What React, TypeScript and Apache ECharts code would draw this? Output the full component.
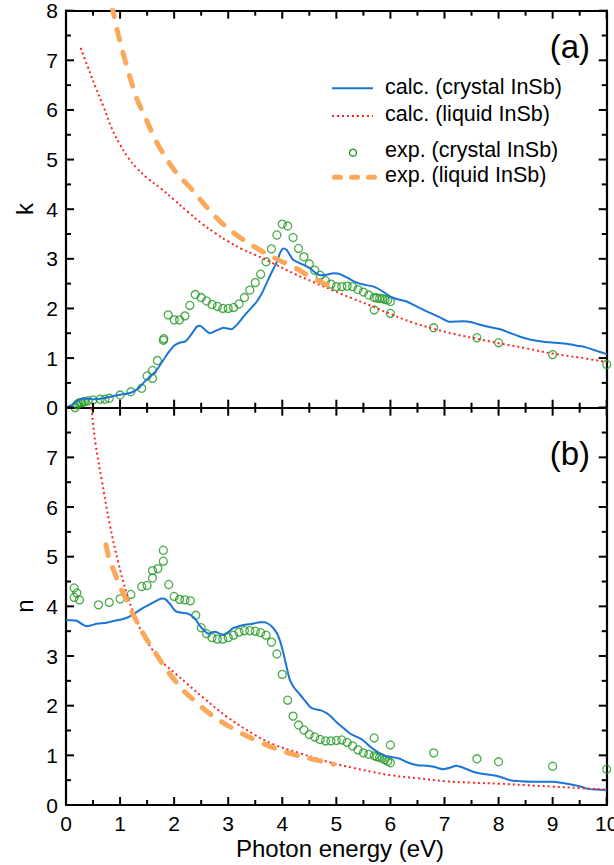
import React, { useEffect, useRef } from "react";
import * as echarts from "echarts";

const BLUE = "#1a75d6";
const RED = "#ff2424";
const GREEN = "#1e961e";
const ORANGE = "#fba85b";
const FONT = "Liberation Sans, Arial, sans-serif";

const xTicks = [0, 1, 2, 3, 4, 5, 6, 7, 8, 9, 10];
const xMinorTicks = [0.5, 1.5, 2.5, 3.5, 4.5, 5.5, 6.5, 7.5, 8.5, 9.5];
const yTicks = [0, 1, 2, 3, 4, 5, 6, 7, 8];
const yMinorTicks = [0.5, 1.5, 2.5, 3.5, 4.5, 5.5, 6.5, 7.5];
const Y_MAX = 8;

// Panel (a): extinction coefficient k
const kCalcCrystal = [
  [0, 0], [0.1, 0.05], [0.2, 0.13], [0.3, 0.18], [0.4, 0.18], [0.5, 0.17], [0.7, 0.19], [0.9, 0.24],
  [1.0, 0.26], [1.2, 0.3], [1.35, 0.4], [1.45, 0.52], [1.55, 0.62], [1.65, 0.72], [1.8, 0.96],
  [1.9, 1.12], [2.0, 1.25], [2.1, 1.31], [2.2, 1.33], [2.3, 1.45], [2.42, 1.63], [2.48, 1.65],
  [2.56, 1.58], [2.66, 1.5], [2.79, 1.56], [2.91, 1.61], [3.06, 1.58], [3.15, 1.66], [3.28, 1.83],
  [3.4, 1.98], [3.53, 2.14], [3.62, 2.3], [3.71, 2.51], [3.8, 2.72], [3.9, 2.94], [3.96, 3.12],
  [4.02, 3.21], [4.08, 3.18], [4.14, 3.08], [4.2, 2.98], [4.33, 2.91], [4.51, 2.81], [4.7, 2.67],
  [4.82, 2.68], [4.95, 2.71], [5.05, 2.7], [5.2, 2.62], [5.38, 2.52], [5.55, 2.47], [5.69, 2.44],
  [5.85, 2.35], [6.0, 2.24], [6.15, 2.18], [6.3, 2.14], [6.5, 2.03], [6.67, 1.94], [6.9, 1.83],
  [7.1, 1.73], [7.35, 1.74], [7.5, 1.72], [7.66, 1.67], [7.85, 1.62], [8.03, 1.58], [8.2, 1.51],
  [8.4, 1.43], [8.6, 1.37], [8.83, 1.33], [9.05, 1.31], [9.26, 1.29], [9.45, 1.25], [9.6, 1.22],
  [9.8, 1.15], [10, 1.08],
];

const kCalcLiquid = [
  [0.27, 7.25], [0.4, 6.88], [0.55, 6.45], [0.7, 6.05], [0.85, 5.62], [1.0, 5.3], [1.15, 5.04],
  [1.3, 4.84], [1.5, 4.63], [1.75, 4.42], [2.0, 4.19], [2.25, 3.95], [2.5, 3.72], [2.77, 3.51],
  [3.0, 3.35], [3.25, 3.2], [3.5, 3.08], [3.85, 2.9], [4.22, 2.7], [4.58, 2.53], [4.94, 2.36],
  [5.3, 2.2], [5.65, 2.05], [6.0, 1.89], [6.4, 1.72], [6.8, 1.59], [7.2, 1.48], [7.6, 1.39],
  [8.0, 1.3], [8.5, 1.2], [9.0, 1.09], [9.5, 1.01], [10, 0.92],
];

const kExpCrystal = [
  [0.17, 0.0], [0.2, 0.06], [0.23, 0.09], [0.26, 0.1], [0.29, 0.1], [0.32, 0.12], [0.35, 0.12],
  [0.41, 0.14], [0.5, 0.155], [0.63, 0.17], [0.72, 0.17], [0.8, 0.19], [1.0, 0.255], [1.2, 0.32],
  [1.4, 0.39], [1.5, 0.64], [1.6, 0.59], [1.6, 0.75], [1.69, 0.95], [1.8, 1.36], [1.81, 1.39],
  [1.89, 1.87], [2.0, 1.77], [2.1, 1.77], [2.2, 1.85], [2.29, 2.06], [2.39, 2.28], [2.5, 2.22],
  [2.6, 2.15], [2.7, 2.08], [2.8, 2.04], [2.9, 2.0], [3.0, 2.0], [3.1, 2.02], [3.2, 2.09],
  [3.3, 2.22], [3.4, 2.37], [3.5, 2.52], [3.6, 2.69], [3.7, 2.94], [3.8, 3.2], [3.9, 3.48],
  [4.0, 3.7], [4.1, 3.66], [4.2, 3.43], [4.3, 3.21], [4.4, 3.04], [4.5, 2.9], [4.6, 2.77],
  [4.7, 2.67], [4.8, 2.56], [4.9, 2.49], [5.0, 2.44], [5.1, 2.44], [5.2, 2.45], [5.3, 2.44],
  [5.4, 2.38], [5.5, 2.33], [5.6, 2.27], [5.7, 2.22], [5.75, 2.21], [5.8, 2.2], [5.85, 2.2],
  [5.9, 2.18], [5.95, 2.17], [6.0, 2.14], [5.7, 1.97], [6.0, 1.9], [6.8, 1.61], [7.6, 1.41],
  [8.0, 1.31], [9.0, 1.07], [10.0, 0.87],
];

const kExpLiquid = [
  [0.85, 8.1], [0.96, 7.55], [1.08, 7.05], [1.2, 6.6], [1.32, 6.2], [1.46, 5.87], [1.6, 5.52],
  [1.76, 5.19], [2.05, 4.72], [2.26, 4.48], [2.48, 4.2], [2.77, 3.84], [3.13, 3.5], [3.49, 3.24],
  [3.85, 3.02], [4.22, 2.83], [4.52, 2.64], [4.89, 2.44],
];

// Panel (b): refractive index n
const nCalcCrystal = [
  [0, 3.72], [0.1, 3.72], [0.2, 3.71], [0.3, 3.64], [0.38, 3.6], [0.47, 3.62], [0.57, 3.65],
  [0.75, 3.67], [0.9, 3.71], [1.0, 3.73], [1.1, 3.76], [1.18, 3.8], [1.27, 3.86], [1.37, 3.93],
  [1.46, 3.99], [1.55, 4.04], [1.65, 4.1], [1.77, 4.16], [1.83, 4.15], [1.92, 4.05], [2.0, 3.93],
  [2.05, 3.89], [2.15, 3.87], [2.23, 3.86], [2.3, 3.83], [2.36, 3.78], [2.42, 3.7], [2.48, 3.6],
  [2.55, 3.52], [2.63, 3.45], [2.7, 3.48], [2.76, 3.49], [2.84, 3.45], [2.91, 3.43], [3.0, 3.48],
  [3.09, 3.56], [3.2, 3.6], [3.31, 3.63], [3.45, 3.65], [3.59, 3.68], [3.67, 3.68], [3.74, 3.65],
  [3.82, 3.58], [3.9, 3.46], [3.96, 3.3], [4.02, 3.06], [4.08, 2.78], [4.14, 2.52], [4.22, 2.36],
  [4.33, 2.22], [4.42, 2.1], [4.51, 1.98], [4.6, 1.93], [4.7, 1.91], [4.82, 1.85], [4.92, 1.76],
  [5.01, 1.66], [5.13, 1.55], [5.25, 1.44], [5.44, 1.34], [5.53, 1.27], [5.62, 1.18], [5.72, 1.1],
  [5.81, 1.04], [5.9, 0.99], [6.0, 0.97], [6.15, 0.94], [6.25, 0.89], [6.36, 0.84], [6.5, 0.8],
  [6.67, 0.79], [6.8, 0.77], [6.98, 0.72], [7.1, 0.75], [7.22, 0.79], [7.35, 0.75], [7.53, 0.67],
  [7.7, 0.63], [7.9, 0.6], [8.05, 0.56], [8.21, 0.5], [8.4, 0.48], [8.64, 0.47], [8.8, 0.47],
  [9.01, 0.47], [9.15, 0.45], [9.32, 0.42], [9.5, 0.38], [9.63, 0.33], [9.8, 0.31], [10, 0.3],
];

const nCalcLiquid = [
  [0.4, 9.0], [0.47, 8.0], [0.55, 7.25], [0.66, 6.55], [0.81, 5.65], [0.97, 4.87], [1.12, 4.27],
  [1.28, 3.78], [1.43, 3.42], [1.6, 3.12], [1.74, 2.92], [2.05, 2.62], [2.23, 2.45], [2.54, 2.16],
  [2.97, 1.78], [3.48, 1.42], [3.84, 1.22], [4.33, 1.04], [4.6, 0.95], [4.94, 0.84], [5.3, 0.75],
  [5.65, 0.67], [6.0, 0.6], [6.5, 0.54], [7.0, 0.48], [7.5, 0.45], [8.0, 0.43], [8.5, 0.4],
  [9.0, 0.37], [9.5, 0.34], [10, 0.31],
];

const nExpCrystal = [
  [0.15, 4.37], [0.15, 4.18], [0.2, 4.27], [0.25, 4.13], [0.6, 4.03], [0.8, 4.08], [1.0, 4.15],
  [1.2, 4.24], [1.4, 4.4], [1.5, 4.42], [1.6, 4.57], [1.6, 4.72], [1.7, 4.76], [1.8, 4.91],
  [1.8, 5.13], [1.9, 4.44], [2.0, 4.2], [2.1, 4.14], [2.2, 4.13], [2.3, 4.11], [2.4, 3.82],
  [2.5, 3.57], [2.6, 3.45], [2.7, 3.37], [2.8, 3.34], [2.9, 3.34], [3.0, 3.37], [3.1, 3.42],
  [3.2, 3.48], [3.3, 3.51], [3.4, 3.51], [3.5, 3.5], [3.6, 3.47], [3.7, 3.42], [3.8, 3.28],
  [3.9, 3.04], [4.0, 2.63], [4.1, 2.11], [4.2, 1.79], [4.3, 1.61], [4.4, 1.51], [4.5, 1.42],
  [4.6, 1.37], [4.7, 1.32], [4.8, 1.29], [4.9, 1.29], [5.0, 1.3], [5.1, 1.31], [5.2, 1.26],
  [5.3, 1.19], [5.4, 1.11], [5.5, 1.05], [5.6, 1.02], [5.7, 0.99], [5.75, 0.97], [5.8, 0.96],
  [5.85, 0.94], [5.9, 0.91], [5.95, 0.88], [6.0, 0.85], [5.7, 1.35], [6.0, 1.21], [6.8, 1.05],
  [7.6, 0.93], [8.0, 0.87], [9.0, 0.78], [10.0, 0.72],
];

const nExpLiquid = [
  [0.74, 5.24], [0.8, 4.95], [0.88, 4.73], [1.0, 4.4], [1.16, 4.03], [1.31, 3.69], [1.46, 3.39],
  [1.65, 3.07], [1.83, 2.77], [2.02, 2.5], [2.1, 2.38], [2.39, 2.09], [2.68, 1.82], [3.12, 1.52],
  [3.48, 1.32], [3.84, 1.15], [4.2, 1.02], [4.57, 0.92], [4.95, 0.82],
];

const legendLabels = [
  "calc. (crystal InSb)",
  "calc. (liquid InSb)",
  "exp. (crystal InSb)",
  "exp. (liquid InSb)",
];

function axisCommon(extra: any) {
  return {
    type: "value",
    min: 0,
    splitLine: { show: false },
    axisLine: { show: true, onZero: false, lineStyle: { color: "#000", width: 2.2 } },
    axisTick: { show: false },
    minorTick: { show: false },
    axisLabel: { show: false },
    ...extra,
  };
}

// Tick marks drawn as small rectangular symbols of a scatter series, placed by the axes' scales.
function tickData(xMax: number) {
  const W = 2;
  const MAJ = 8;
  const MIN = 5;
  const items: any[] = [];
  const add = (value: number[], size: number[], offset: number[]) =>
    items.push({ value, symbolSize: size, symbolOffset: offset });
  xTicks.forEach((v) => {
    add([v, 0], [W, MAJ], [0, -MAJ / 2]);
    add([v, Y_MAX], [W, MAJ], [0, MAJ / 2]);
  });
  xMinorTicks.forEach((v) => {
    add([v, 0], [W, MIN], [0, -MIN / 2]);
    add([v, Y_MAX], [W, MIN], [0, MIN / 2]);
  });
  yTicks.forEach((v) => {
    add([0, v], [MAJ, W], [MAJ / 2, 0]);
    add([xMax, v], [MAJ, W], [-MAJ / 2, 0]);
  });
  yMinorTicks.forEach((v) => {
    add([0, v], [MIN, W], [MIN / 2, 0]);
    add([xMax, v], [MIN, W], [-MIN / 2, 0]);
  });
  return items;
}

export default function App() {
  const ref = useRef<HTMLDivElement>(null);
  useEffect(() => {
    if (!ref.current) return;
    document.body.style.margin = "0";
    const chart = echarts.init(ref.current, undefined, { renderer: "svg" });
    const xMax = xTicks[xTicks.length - 1];
    const lbl = { show: true, color: "#000", fontSize: 21, lineHeight: 21, fontFamily: FONT };
    const lineBase = { type: "line", showSymbol: false, symbol: "none", clip: true };
    const scatterBase = {
      type: "scatter",
      symbol: "circle",
      symbolSize: 8,
      clip: false,
      itemStyle: { color: "rgba(0,0,0,0)", borderColor: GREEN, borderWidth: 1.3 },
    };
    const tickSeries = (axisIndex: number) => ({
      type: "scatter",
      name: "ticks" + axisIndex,
      xAxisIndex: axisIndex,
      yAxisIndex: axisIndex,
      symbol: "rect",
      clip: false,
      silent: true,
      z: 10,
      itemStyle: { color: "#000", opacity: 1 },
      emphasis: { disabled: true },
      data: tickData(xMax),
    });
    const blueStyle = { color: BLUE, width: 2 };
    const redStyle = { color: RED, width: 2, type: [2, 3] };
    const orangeStyle = { color: ORANGE, width: 5, type: [11, 13], cap: "round" };

    const textStyle = (text: string, fontSize: number, align: string) => ({
      text,
      fill: "#000",
      fontSize,
      lineHeight: fontSize,
      fontFamily: FONT,
      align,
      verticalAlign: "middle",
      textAlign: align,
      textVerticalAlign: "middle",
    });

    chart.setOption({
      animation: false,
      backgroundColor: "#fff",
      grid: [
        { left: 66, right: 7.3, top: 10.7, height: 397, outerBoundsMode: "none", containLabel: false },
        { left: 66, right: 7.3, top: 407.7, height: 397.3, outerBoundsMode: "none", containLabel: false },
      ],
      xAxis: [
        axisCommon({ gridIndex: 0, position: "bottom", max: xMax, interval: 1 }),
        axisCommon({ gridIndex: 0, position: "top", max: xMax, interval: 1 }),
        axisCommon({
          gridIndex: 1,
          position: "bottom",
          max: xMax,
          interval: 1,
          axisLabel: { ...lbl, margin: 8, hideOverlap: false },
        }),
        axisCommon({ gridIndex: 1, position: "top", max: xMax, interval: 1 }),
      ],
      yAxis: [
        axisCommon({ gridIndex: 0, position: "left", max: Y_MAX, interval: 1, axisLabel: { ...lbl, margin: 8 } }),
        axisCommon({ gridIndex: 0, position: "right", max: Y_MAX, interval: 1 }),
        axisCommon({
          gridIndex: 1,
          position: "left",
          max: Y_MAX,
          interval: 1,
          axisLabel: { ...lbl, margin: 8, formatter: (v: number) => (v >= Y_MAX ? "" : String(v)) },
        }),
        axisCommon({ gridIndex: 1, position: "right", max: Y_MAX, interval: 1 }),
      ],
      series: [
        { ...lineBase, name: legendLabels[0], xAxisIndex: 0, yAxisIndex: 0, data: kCalcCrystal, smooth: 0.25, lineStyle: blueStyle },
        { ...lineBase, name: legendLabels[1], xAxisIndex: 0, yAxisIndex: 0, data: kCalcLiquid, smooth: 0.4, lineStyle: redStyle },
        { ...scatterBase, name: legendLabels[2], xAxisIndex: 0, yAxisIndex: 0, data: kExpCrystal },
        { ...lineBase, name: legendLabels[3], xAxisIndex: 0, yAxisIndex: 0, data: kExpLiquid, smooth: 0.4, lineStyle: orangeStyle },
        { ...lineBase, name: legendLabels[0] + " n", xAxisIndex: 2, yAxisIndex: 2, data: nCalcCrystal, smooth: 0.25, lineStyle: blueStyle },
        { ...lineBase, name: legendLabels[1] + " n", xAxisIndex: 2, yAxisIndex: 2, data: nCalcLiquid, smooth: 0.4, lineStyle: redStyle },
        { ...scatterBase, name: legendLabels[2] + " n", xAxisIndex: 2, yAxisIndex: 2, data: nExpCrystal },
        { ...lineBase, name: legendLabels[3] + " n", xAxisIndex: 2, yAxisIndex: 2, data: nExpLiquid, smooth: 0.4, lineStyle: orangeStyle },
        tickSeries(0),
        tickSeries(2),
      ],
      graphic: [
        // legend
        { type: "line", shape: { x1: 332, y1: 88.3, x2: 373, y2: 88.3 }, style: { stroke: BLUE, lineWidth: 2 } },
        { type: "line", shape: { x1: 332, y1: 116, x2: 373, y2: 116 }, style: { stroke: RED, lineWidth: 2, lineDash: [2, 3] } },
        { type: "circle", shape: { cx: 353, cy: 152.7, r: 3.5 }, style: { fill: "none", stroke: GREEN, lineWidth: 1.3 } },
        {
          type: "line",
          shape: { x1: 334.5, y1: 177.3, x2: 374.5, y2: 177.3 },
          style: { stroke: ORANGE, lineWidth: 5, lineDash: [6, 11], lineCap: "round" },
        },
        ...legendLabels.map((t, i) => ({
          type: "text",
          x: 385,
          y: [86.9, 114.4, 149.8, 175.4][i],
          style: textStyle(t, 21.5, "left"),
        })),
        // panel labels
        { type: "text", x: 590, y: 46.5, style: textStyle("(a)", 33, "right") },
        { type: "text", x: 590, y: 453.5, style: textStyle("(b)", 33, "right") },
        // axis titles
        { type: "text", x: 24.5, y: 209, rotation: Math.PI / 2, style: textStyle("k", 24, "center") },
        { type: "text", x: 24.5, y: 606, rotation: Math.PI / 2, style: textStyle("n", 24, "center") },
        { type: "text", x: 340, y: 848, style: textStyle("Photon energy (eV)", 24, "center") },
      ],
    });
    return () => chart.dispose();
  }, []);
  return (
    <div
      ref={ref}
      style={{ position: "absolute", left: 0, top: 0, width: 614, height: 865, background: "#fff" }}
    />
  );
}
